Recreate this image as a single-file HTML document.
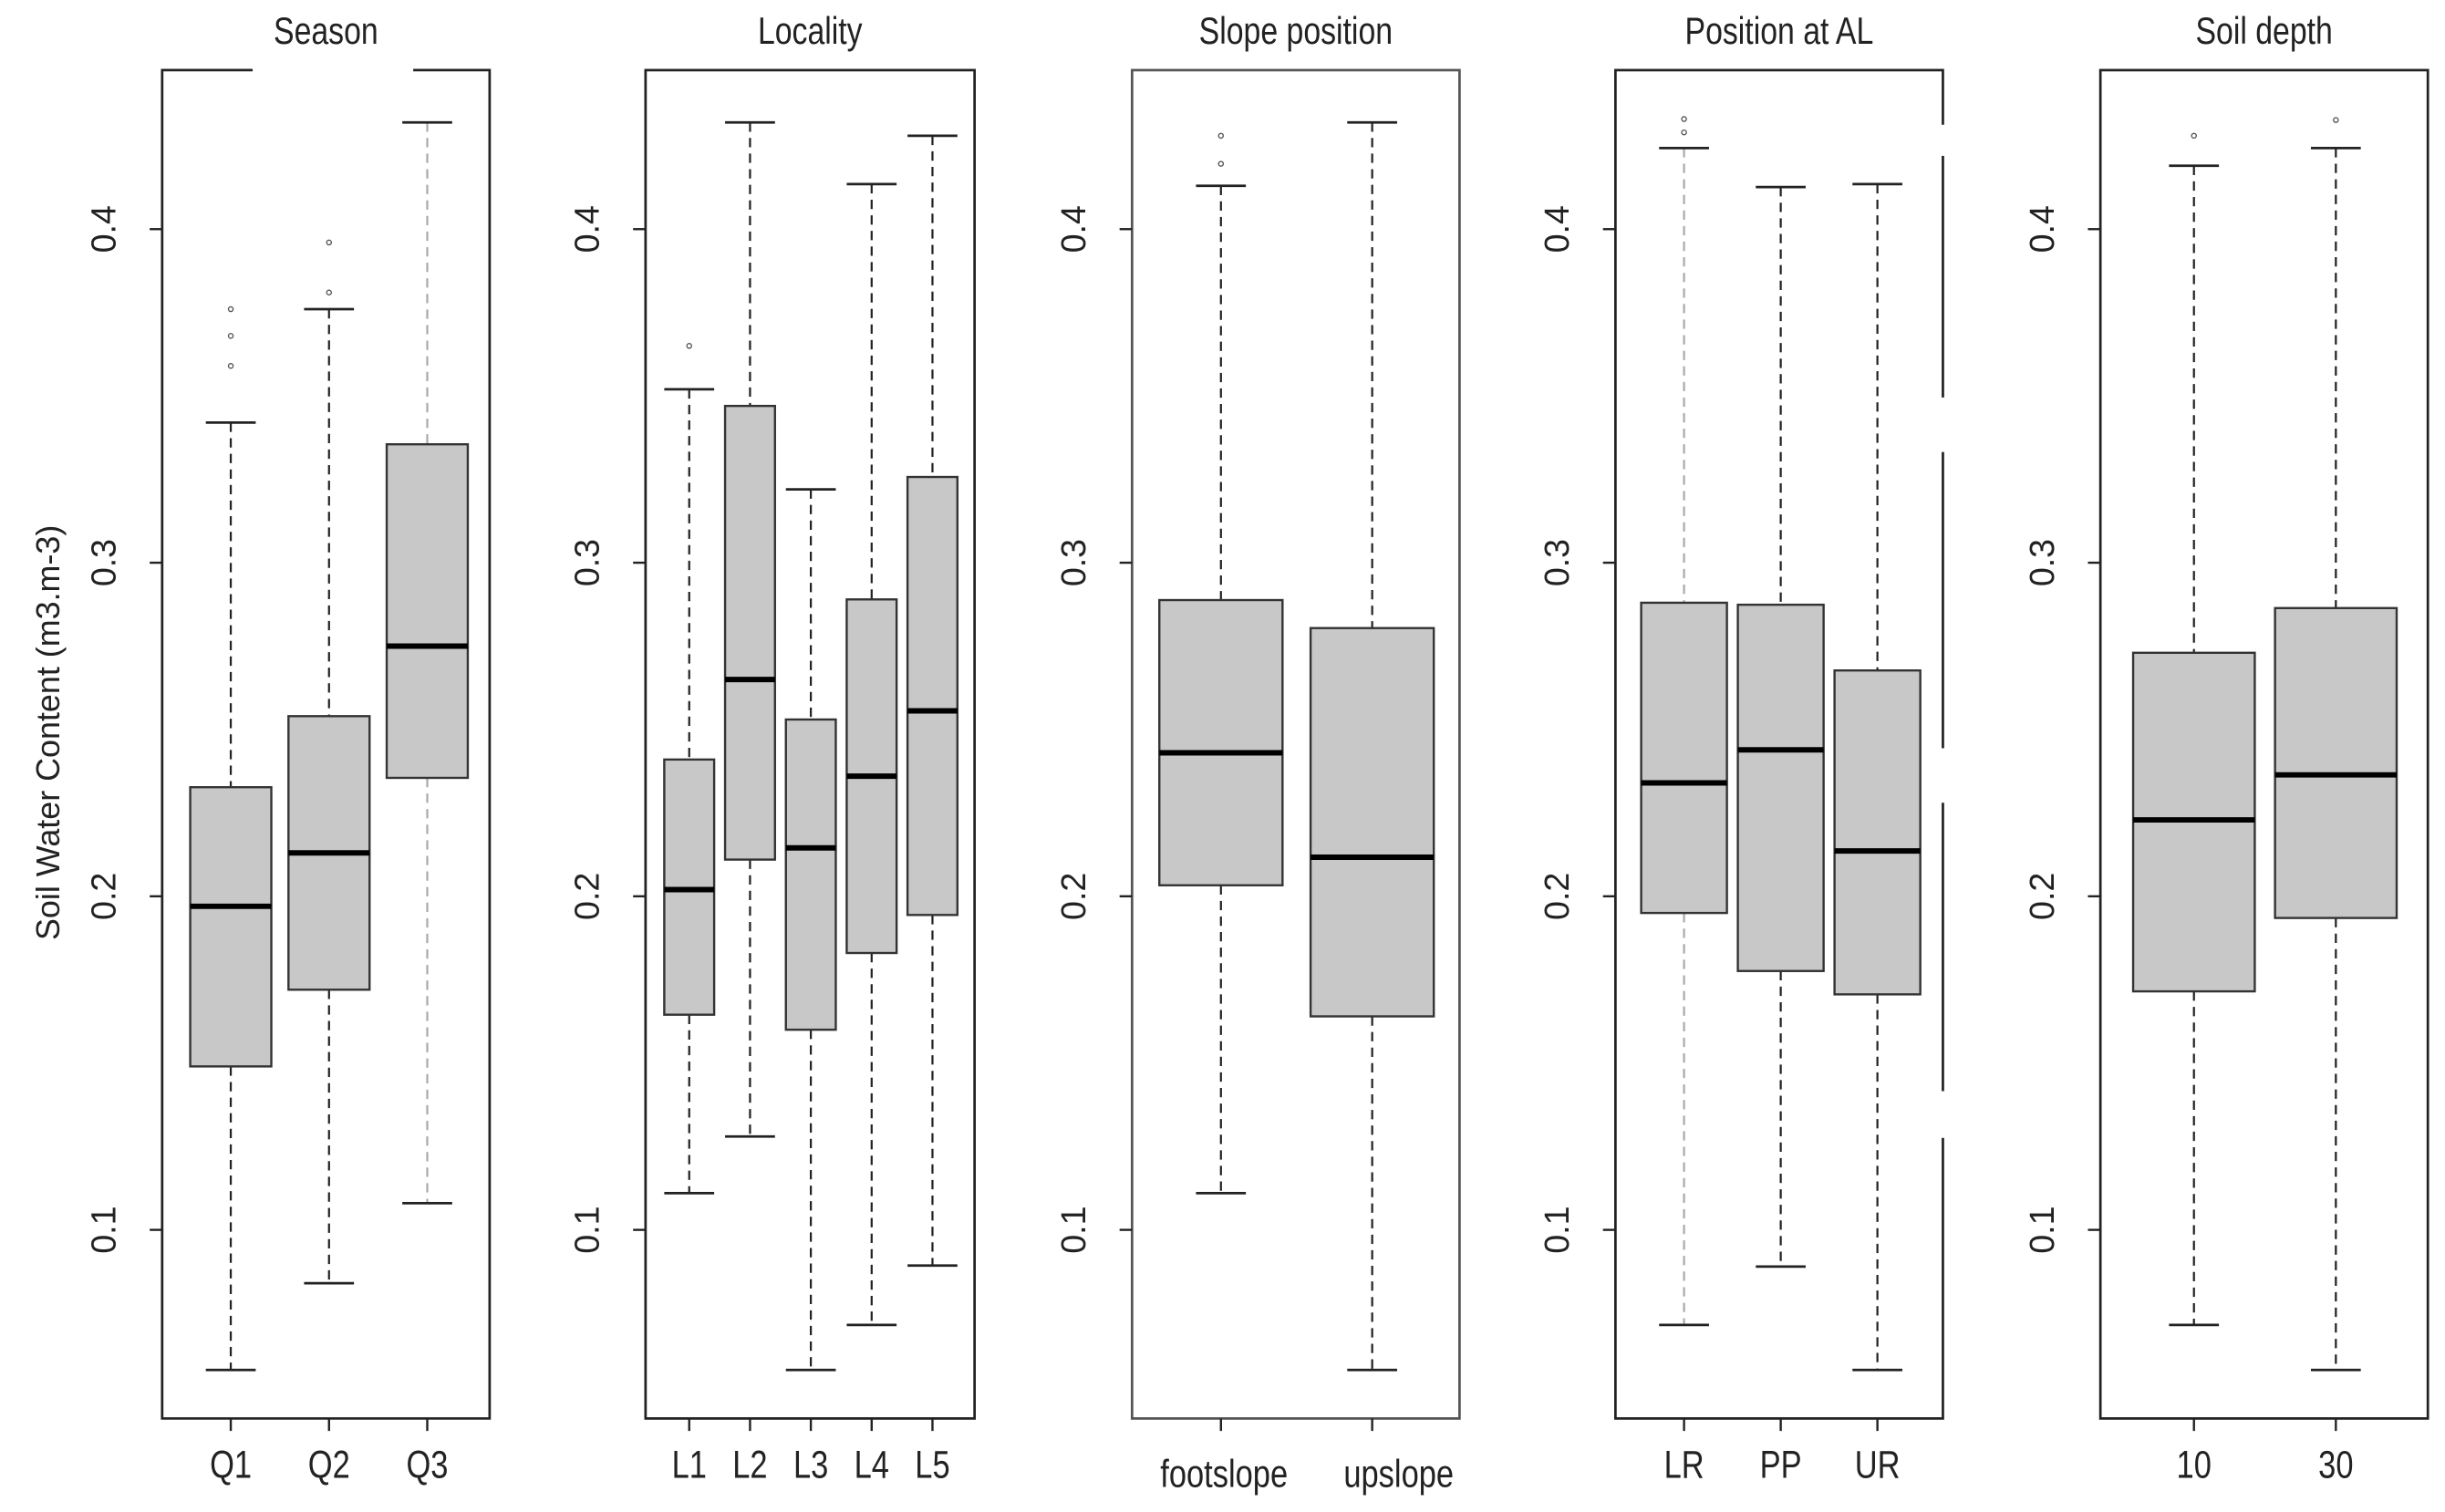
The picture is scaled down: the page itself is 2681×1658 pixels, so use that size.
<!DOCTYPE html>
<html><head><meta charset="utf-8"><style>
html,body{margin:0;padding:0;background:#fff}
svg{display:block}
text{font-family:"Liberation Sans",sans-serif;fill:#222}
</style></head><body>
<svg id="chart" width="2681" height="1658" viewBox="0 0 1568 970" preserveAspectRatio="none" xmlns="http://www.w3.org/2000/svg">
<text x="0" y="0" transform="translate(38,470) rotate(-90)" text-anchor="middle" font-size="21">Soil Water Content (m3.m-3)</text>
</svg>
<script>
const yTicks = [0.1, 0.2, 0.3, 0.4];
const yTickLabels = ["0.1", "0.2", "0.3", "0.4"];

const titles = ["Season", "Locality", "Slope position", "Position at AL", "Soil depth"];

const seasonCats = ["Q1", "Q2", "Q3"];
const seasonLow = [0.058, 0.084, 0.108];
const seasonQ1 = [0.149, 0.172, 0.2355];
const seasonMed = [0.197, 0.213, 0.275];
const seasonQ3 = [0.2327, 0.254, 0.3355];
const seasonHigh = [0.342, 0.376, 0.432];
const seasonOut = [[0.376, 0.368, 0.359], [0.396, 0.381], []];

const localityCats = ["L1", "L2", "L3", "L4", "L5"];
const localityLow = [0.111, 0.128, 0.058, 0.0715, 0.0893];
const localityQ1 = [0.1645, 0.211, 0.160, 0.183, 0.1944];
const localityMed = [0.202, 0.265, 0.2145, 0.236, 0.2556];
const localityQ3 = [0.241, 0.347, 0.253, 0.289, 0.3257];
const localityHigh = [0.352, 0.432, 0.322, 0.4135, 0.428];
const localityOut = [[0.365], [], [], [], []];

const slopeCats = ["footslope", "upslope"];
const slopeLow = [0.111, 0.058];
const slopeQ1 = [0.2033, 0.164];
const slopeMed = [0.243, 0.2117];
const slopeQ3 = [0.2888, 0.2804];
const slopeHigh = [0.413, 0.432];
const slopeOut = [[0.428, 0.4196], []];

const alCats = ["LR", "PP", "UR"];
const alLow = [0.0715, 0.089, 0.058];
const alQ1 = [0.195, 0.1776, 0.1706];
const alMed = [0.234, 0.2439, 0.2136];
const alQ3 = [0.288, 0.2874, 0.2677];
const alHigh = [0.4243, 0.4126, 0.4135];
const alOut = [[0.433, 0.429], [], []];

const depthCats = ["10", "30"];
const depthLow = [0.0715, 0.058];
const depthQ1 = [0.1715, 0.1935];
const depthMed = [0.2229, 0.2364];
const depthQ3 = [0.273, 0.2864];
const depthHigh = [0.419, 0.4243];
const depthOut = [[0.428], [0.4327]];

const NS = "http://www.w3.org/2000/svg";
const svg = document.getElementById("chart");
const TOP = 45, BOTTOM = 910;
function y(v){ return 147 + (0.4 - v) * 2140; }
function mk(tag, attrs, parent){
  const e = document.createElementNS(NS, tag);
  for (const k in attrs) e.setAttribute(k, attrs[k]);
  (parent || svg).appendChild(e);
  return e;
}

const panels = [
  {cats: seasonCats, low: seasonLow, q1: seasonQ1, med: seasonMed, q3: seasonQ3, high: seasonHigh, out: seasonOut, left: 104, right: 314, pad: 44, step: 63, bw: 52, grey: [2], lx: [0,0,0]},
  {cats: localityCats, low: localityLow, q1: localityQ1, med: localityMed, q3: localityQ3, high: localityHigh, out: localityOut, left: 414, right: 625, pad: 28, step: 39, bw: 32, grey: [], lx: [0,0,0,0,0]},
  {cats: slopeCats, low: slopeLow, q1: slopeQ1, med: slopeMed, q3: slopeQ3, high: slopeHigh, out: slopeOut, left: 726, right: 936, pad: 57, step: 97, bw: 79, grey: [], lx: [2,17]},
  {cats: alCats, low: alLow, q1: alQ1, med: alMed, q3: alQ3, high: alHigh, out: alOut, left: 1036, right: 1246, pad: 44, step: 62, bw: 55, grey: [0], lx: [0,0,0]},
  {cats: depthCats, low: depthLow, q1: depthQ1, med: depthMed, q3: depthQ3, high: depthHigh, out: depthOut, left: 1347, right: 1557, pad: 60, step: 91, bw: 78, grey: [], lx: [0,0]}
];

panels.forEach((p, pi) => {
  const g = mk("g", {});
  
  
  const t = mk("text", {x: 0, y: 0, transform: `translate(${(p.left + p.right) / 2},28) scale(0.86,1.05)`, "text-anchor": "middle", "font-size": 23}, g);
  t.textContent = titles[pi];
  
  
  if (pi === 0) {
    const f1 = mk("path", {d: `M162 ${TOP} H${p.left} V${BOTTOM} H${p.right} V${TOP} H265`, fill: "none", stroke: "#222", "stroke-width": 1.6}, g);
    
    
  } else {
    const f = mk("rect", {x: p.left, y: TOP, width: p.right - p.left, height: BOTTOM - TOP, fill: "none", stroke: pi === 2 ? "#555" : "#222", "stroke-width": 1.6}, g);
    
    
    if (pi === 3) {
      [[80, 100], [255, 290], [480, 515], [700, 730]].forEach(gp => {
        mk("rect", {x: p.right - 2, y: gp[0], width: 4, height: gp[1] - gp[0], fill: "#fff"}, g);
      });
    }
  }
  yTicks.forEach((v, i) => {
    const tk = mk("line", {x1: p.left - 8, x2: p.left, y1: y(v), y2: y(v), stroke: "#222", "stroke-width": 1.4}, g);
    
    
    const tl = mk("text", {x: 0, y: 0, transform: `translate(${p.left - 30},${y(v)}) rotate(-90)`, "text-anchor": "middle", "font-size": 22}, g);
    tl.textContent = yTickLabels[i];
    
    
  });
  p.cats.forEach((c, i) => {
    const cx = p.left + p.pad + i * p.step;
    const hw = p.bw / 2;
    const wcol = p.grey.includes(i) ? "#aaa" : "#222";
    const b = mk("g", {}, g);
    
    
    mk("line", {x1: cx, x2: cx, y1: y(p.high[i]), y2: y(p.q3[i]), stroke: wcol, "stroke-width": 1.3, "stroke-dasharray": "6,4"}, b);
    mk("line", {x1: cx, x2: cx, y1: y(p.q1[i]), y2: y(p.low[i]), stroke: wcol, "stroke-width": 1.3, "stroke-dasharray": "6,4"}, b);
    mk("line", {x1: cx - 16, x2: cx + 16, y1: y(p.high[i]), y2: y(p.high[i]), stroke: "#222", "stroke-width": 1.6}, b);
    mk("line", {x1: cx - 16, x2: cx + 16, y1: y(p.low[i]), y2: y(p.low[i]), stroke: "#222", "stroke-width": 1.6}, b);
    mk("rect", {x: cx - hw, y: y(p.q3[i]), width: p.bw, height: y(p.q1[i]) - y(p.q3[i]), fill: "#c8c8c8", stroke: "#333", "stroke-width": 1.4}, b);
    mk("line", {x1: cx - hw, x2: cx + hw, y1: y(p.med[i]), y2: y(p.med[i]), stroke: "#000", "stroke-width": 3.5}, b);
    p.out[i].forEach(o => {
      const pt = mk("circle", {cx: cx, cy: y(o), r: 1.5, fill: "none", stroke: "#555", "stroke-width": 0.8}, b);
      
      
    });
    const xt = mk("line", {x1: cx, x2: cx, y1: BOTTOM, y2: BOTTOM + 8, stroke: "#222", "stroke-width": 1.4}, g);
    
    
    const xl = mk("text", {x: 0, y: 0, transform: `translate(${cx + p.lx[i]},${pi === 2 ? 954 : 948}) scale(0.84,1.05)`, "text-anchor": "middle", "font-size": 24}, g);
    xl.textContent = c;
    
    
  });
});
</script>
</body></html>
